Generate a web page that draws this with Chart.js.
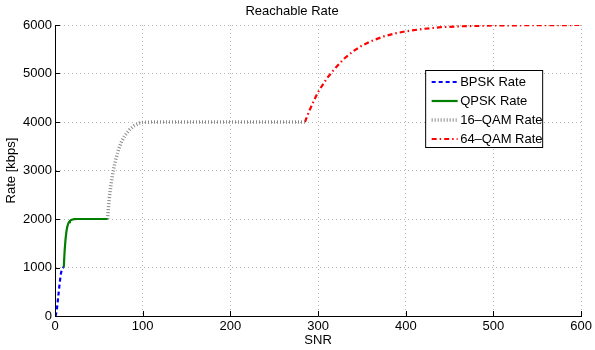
<!DOCTYPE html>
<html>
<head>
<meta charset="utf-8">
<script src="https://cdn.jsdelivr.net/npm/chart.js@4/dist/chart.umd.min.js"></script>
<style>
html,body{margin:0;padding:0;background:#fff;}
#wrap{width:595px;height:350px;position:relative;}
</style>
</head>
<body>
<div id="wrap"><canvas id="c" width="595" height="350"></canvas></div>
<script>
// ---- data ----
const chartTitle = 'Reachable Rate';
const xTitle = 'SNR';
const yTitle = 'Rate [kbps]';
const seriesNames = ['BPSK Rate', 'QPSK Rate', '16\u2013QAM Rate', '64\u2013QAM Rate'];

const bpskSnr  = [0, 1, 2, 3, 4, 5, 6, 7, 8, 9, 10];
const bpskRate = [0, 20, 120, 280, 450, 620, 780, 900, 970, 995, 1000];

const qpskSnr  = [10, 11, 12, 13, 14, 15, 16, 17, 18, 20, 22, 25, 30, 40, 50, 60];
const qpskRate = [1000, 1350, 1580, 1740, 1840, 1900, 1935, 1960, 1975, 1990, 1996, 2000, 2000, 2000, 2000, 2000];

const qam16Snr  = [60, 61, 62, 64, 66, 68, 70, 73, 76, 80, 85, 90, 96, 100, 110, 150, 200, 250, 285];
const qam16Rate = [2000, 2250, 2450, 2730, 2950, 3130, 3280, 3460, 3600, 3730, 3840, 3920, 3975, 3990, 4000, 4000, 4000, 4000, 4000];

const qam64Snr  = [285, 290, 295, 300, 310, 320, 330, 340, 350, 360, 375, 390, 400, 420, 440, 460, 480, 500, 550, 600];
const qam64Rate = [4000, 4230, 4430, 4620, 4900, 5120, 5310, 5460, 5575, 5665, 5765, 5835, 5870, 5920, 5955, 5972, 5982, 5990, 5997, 6000];

const xTicks = [0, 100, 200, 300, 400, 500, 600];
const yTicks = [0, 1000, 2000, 3000, 4000, 5000, 6000];

// ---- build ----
const pts = (xs, ys) => xs.map((x, i) => ({x: x, y: ys[i]}));
const FONT = 'Liberation Sans, Arial, Helvetica, sans-serif';
const FS = 13;

const styles = [
  {color: '#0000ff', width: 2.2, dash: [4, 3]},
  {color: '#007f00', width: 2.2, dash: []},
  {color: '#8c8c8c', width: 3.5, dash: [1, 2]},
  {color: '#ff0000', width: 2.2, dash: [5, 3, 1.5, 3]}
];
const seriesData = [pts(bpskSnr, bpskRate), pts(qpskSnr, qpskRate), pts(qam16Snr, qam16Rate), pts(qam64Snr, qam64Rate)];

const datasets = seriesData.map((d, i) => ({
  label: seriesNames[i],
  data: d,
  showLine: true,
  pointRadius: 0,
  borderColor: styles[i].color,
  backgroundColor: styles[i].color,
  borderWidth: styles[i].width,
  borderDash: styles[i].dash,
  tension: 0,
  fill: false
}));

const inwardTicks = {
  id: 'inwardTicks',
  afterDatasetsDraw(chart) {
    const ctx = chart.ctx, a = chart.chartArea;
    const xs = chart.scales.x, ys = chart.scales.y;
    ctx.save();
    ctx.strokeStyle = '#000';
    ctx.lineWidth = 1;
    ctx.beginPath();
    xTicks.forEach(v => {
      const p = Math.round(xs.getPixelForValue(v)) + 0.5;
      ctx.moveTo(p, a.bottom); ctx.lineTo(p, a.bottom - 5);
    });
    yTicks.forEach(v => {
      const p = Math.round(ys.getPixelForValue(v)) + 0.5;
      ctx.moveTo(a.left, p); ctx.lineTo(a.left + 5, p);
    });
    ctx.stroke();
    ctx.restore();
  }
};

const boxLegend = {
  id: 'boxLegend',
  afterDraw(chart) {
    const ctx = chart.ctx, a = chart.chartArea;
    const bx = a.right - 155.5, by = 70.5, bw = 117, bh = 77;
    ctx.save();
    ctx.fillStyle = '#fff';
    ctx.fillRect(bx, by, bw, bh);
    ctx.strokeStyle = '#000';
    ctx.lineWidth = 1;
    ctx.setLineDash([]);
    ctx.strokeRect(bx, by, bw, bh);
    ctx.font = FS + 'px ' + FONT;
    ctx.textBaseline = 'middle';
    ctx.fillStyle = '#000';
    chart.data.datasets.forEach((ds, i) => {
      const y = by + 11.5 + i * 19;
      ctx.beginPath();
      ctx.strokeStyle = ds.borderColor;
      ctx.lineWidth = ds.borderWidth;
      ctx.setLineDash(ds.borderDash);
      ctx.moveTo(bx + 6, y); ctx.lineTo(bx + 32, y);
      ctx.stroke();
      ctx.setLineDash([]);
      ctx.fillText(ds.label, bx + 34.5, y + 0.5);
    });
    ctx.restore();
  }
};

new Chart(document.getElementById('c'), {
  type: 'scatter',
  data: {datasets: datasets},
  plugins: [inwardTicks, boxLegend],
  options: {
    responsive: false,
    animation: false,
    devicePixelRatio: 1,
    layout: {padding: {left: 0, right: 11, top: 0, bottom: 0}},
    plugins: {
      legend: {display: false},
      tooltip: {enabled: false},
      title: {
        display: true, text: chartTitle, color: '#000',
        font: {family: FONT, size: FS, weight: 'normal', lineHeight: 1.2},
        padding: {top: 4, bottom: 5.4}
      }
    },
    scales: {
      x: {
        type: 'linear', min: 0, max: 600,
        afterBuildTicks: s => { s.ticks = xTicks.map(v => ({value: v})); },
        afterFit: s => { s.height = 34; },
        ticks: {color: '#000', font: {family: FONT, size: FS}, padding: 3, maxRotation: 0, callback: v => String(v)},
        grid: {color: '#b4b4b4', lineWidth: 1, drawTicks: false},
        border: {display: true, color: '#000', width: 1, dash: [1, 3]},
        title: {display: true, text: xTitle, color: '#000', font: {family: FONT, size: FS}, padding: {top: 0, bottom: 2}}
      },
      y: {
        type: 'linear', min: 0, max: 6000,
        afterBuildTicks: s => { s.ticks = yTicks.map(v => ({value: v})); },
        afterFit: s => { s.width = 55; },
        ticks: {color: '#000', font: {family: FONT, size: FS}, padding: 3, callback: v => String(v)},
        grid: {color: '#b4b4b4', lineWidth: 1, drawTicks: false},
        border: {display: true, color: '#000', width: 1, dash: [1, 3]},
        title: {display: true, text: yTitle, color: '#000', font: {family: FONT, size: FS}, padding: {top: 4, bottom: 0}}
      }
    }
  }
});
</script>
</body>
</html>
